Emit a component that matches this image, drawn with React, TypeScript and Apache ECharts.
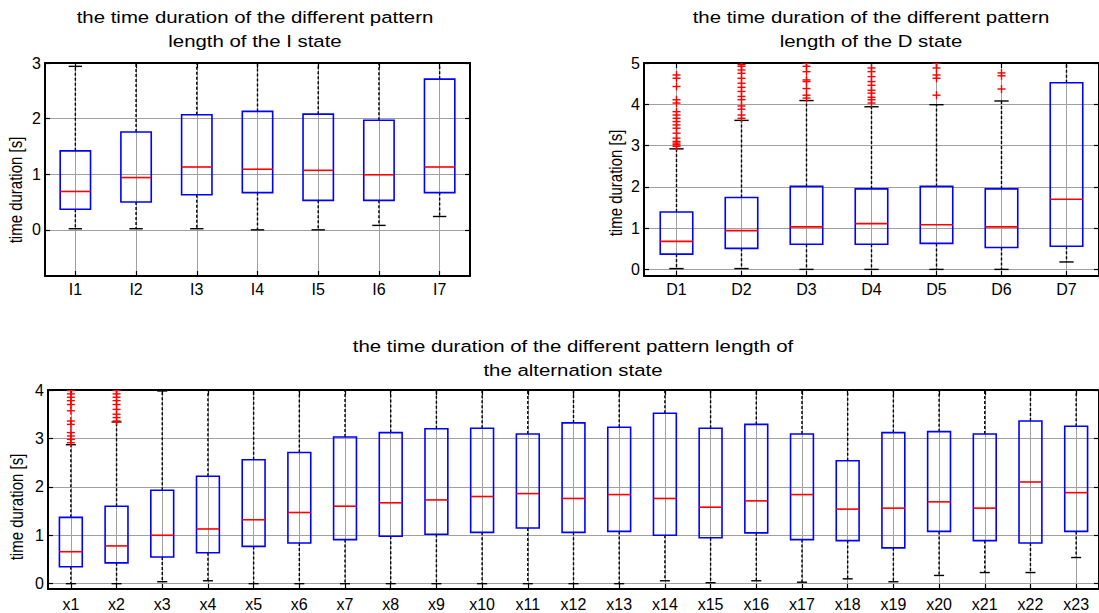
import React, { useEffect, useRef } from 'react';
import * as echarts from 'echarts';

const FONT = '"Liberation Sans", Arial, Helvetica, sans-serif';

// ---- I state ----
const iCats = ['I1', 'I2', 'I3', 'I4', 'I5', 'I6', 'I7'];
const iLow = [0.02, 0.02, 0.02, 0.0, 0.0, 0.08, 0.24];
const iQ1 = [0.37, 0.5, 0.63, 0.67, 0.53, 0.53, 0.67];
const iMed = [0.69, 0.94, 1.13, 1.09, 1.07, 0.99, 1.13];
const iQ3 = [1.42, 1.76, 2.07, 2.13, 2.08, 1.97, 2.71];
const iHigh = [2.94, 3.6, 3.9, 4.0, 3.9, 3.7, 4.6];
const iOut: number[][] = [[], [], [], [], [], [], []];
const iTicks = [0, 1, 2, 3];

// ---- D state ----
const dCats = ['D1', 'D2', 'D3', 'D4', 'D5', 'D6', 'D7'];
const dLow = [0.02, 0.02, 0.0, 0.0, 0.0, 0.0, 0.18];
const dQ1 = [0.37, 0.51, 0.61, 0.61, 0.63, 0.53, 0.56];
const dMed = [0.68, 0.94, 1.03, 1.11, 1.08, 1.03, 1.7];
const dQ3 = [1.39, 1.74, 2.01, 1.95, 2.01, 1.95, 4.52];
const dHigh = [2.92, 3.61, 4.09, 3.94, 3.99, 4.08, 6.4];
const dOut: number[][] = [
  [2.98, 3.02, 3.06, 3.1, 3.18, 3.3, 3.42, 3.5, 3.58, 3.66, 3.74, 3.82, 4.03, 4.11, 4.43, 4.63, 4.71],
  [3.66, 3.74, 3.88, 3.96, 4.11, 4.19, 4.31, 4.41, 4.51, 4.63, 4.75, 4.83, 4.92, 4.96],
  [4.15, 4.22, 4.38, 4.55, 4.59, 4.79, 4.92, 5.0],
  [4.03, 4.11, 4.17, 4.27, 4.34, 4.46, 4.55, 4.67, 4.79, 4.88],
  [4.22, 4.63, 4.71, 4.88, 5.0],
  [4.37, 4.69, 4.76],
  [],
];
const dTicks = [0, 1, 2, 3, 4, 5];

// ---- alternation state ----
const xCats = ['x1', 'x2', 'x3', 'x4', 'x5', 'x6', 'x7', 'x8', 'x9', 'x10', 'x11', 'x12', 'x13', 'x14', 'x15', 'x16', 'x17', 'x18', 'x19', 'x20', 'x21', 'x22', 'x23'];
const xLow = [0, 0, 0.04, 0.06, 0, 0, 0, 0, 0, 0, 0, 0, 0, 0.06, 0.02, 0.06, 0.03, 0.1, 0.04, 0.17, 0.23, 0.23, 0.54];
const xQ1 = [0.35, 0.43, 0.55, 0.64, 0.77, 0.84, 0.91, 0.98, 1.02, 1.06, 1.15, 1.06, 1.08, 1.0, 0.95, 1.05, 0.91, 0.89, 0.74, 1.08, 0.89, 0.84, 1.08];
const xMed = [0.66, 0.78, 1.0, 1.13, 1.32, 1.47, 1.6, 1.67, 1.73, 1.8, 1.86, 1.76, 1.84, 1.76, 1.58, 1.71, 1.84, 1.54, 1.56, 1.69, 1.56, 2.1, 1.88];
const xQ3 = [1.37, 1.6, 1.93, 2.22, 2.56, 2.71, 3.03, 3.12, 3.2, 3.21, 3.09, 3.32, 3.23, 3.52, 3.21, 3.29, 3.09, 2.54, 3.12, 3.14, 3.09, 3.36, 3.25];
const xHigh = [2.87, 3.34, 3.98, 4.6, 5.0, 5.2, 5.5, 5.6, 5.7, 5.7, 5.5, 5.9, 5.8, 6.2, 5.7, 5.8, 5.6, 4.8, 5.7, 5.7, 5.6, 6.0, 5.8];
const xOut: number[][] = [
  [2.91, 2.98, 3.05, 3.12, 3.29, 3.36, 3.57, 3.7, 3.78, 3.85, 3.92, 3.99],
  [3.36, 3.43, 3.5, 3.6, 3.7, 3.78, 3.85, 3.92, 3.99],
  [], [], [], [], [], [], [], [], [], [], [], [], [], [], [], [], [], [], [], [], [],
];
const xTicks = [0, 1, 2, 3, 4];

const titles = [
  ['the time duration of the different pattern', 'length of the I state'],
  ['the time duration of the different pattern', 'length of the D state'],
  ['the time duration of the different pattern length of', 'the alternation state'],
];
const yName = 'time duration [s]';

function boxData(low: number[], q1: number[], med: number[], q3: number[], high: number[]) {
  return low.map((l, i) => [i + 1, l, q1[i], med[i], q3[i], high[i]]);
}
function outlierData(out: number[][]) {
  const r: number[][] = [];
  out.forEach((arr, i) => arr.forEach((v) => r.push([i + 1, v])));
  return r;
}

function renderBox(params: any, api: any) {
  const x = api.value(0);
  const cs = params.coordSys;
  const top = cs.y;
  const bot = cs.y + cs.height;
  const unit = api.size([1, 0])[0];
  const halfBox = unit * 0.25;
  const halfCap = unit * 0.11;
  const cx = api.coord([x, 0])[0];
  const py = (v: number) => api.coord([x, v])[1];
  const yLow = py(api.value(1));
  const yQ1 = py(api.value(2));
  const yMed = py(api.value(3));
  const yQ3 = py(api.value(4));
  const yHigh = py(api.value(5));
  const cl = (y: number) => Math.max(top, Math.min(bot, y));
  const whisk = { stroke: '#000', lineWidth: 1.4, lineDash: [3, 2], fill: null };
  const capStyle = { stroke: '#000', lineWidth: 1.4, fill: null };
  const children: any[] = [
    { type: 'line', shape: { x1: cx, y1: yQ3, x2: cx, y2: cl(yHigh) }, style: whisk },
    { type: 'line', shape: { x1: cx, y1: yQ1, x2: cx, y2: cl(yLow) }, style: whisk },
  ];
  if (yHigh >= top) {
    children.push({ type: 'line', shape: { x1: cx - halfCap, y1: yHigh, x2: cx + halfCap, y2: yHigh }, style: capStyle });
  }
  if (yLow <= bot) {
    children.push({ type: 'line', shape: { x1: cx - halfCap, y1: yLow, x2: cx + halfCap, y2: yLow }, style: capStyle });
  }
  children.push({
    type: 'rect',
    shape: { x: cx - halfBox, y: yQ3, width: 2 * halfBox, height: yQ1 - yQ3 },
    style: { fill: 'none', stroke: '#0000ff', lineWidth: 1.6 },
  });
  children.push({
    type: 'line',
    shape: { x1: cx - halfBox, y1: yMed, x2: cx + halfBox, y2: yMed },
    style: { stroke: '#ff0000', lineWidth: 1.6, fill: null },
  });
  return { type: 'group', children };
}

function renderPlus(params: any, api: any) {
  const p = api.coord([api.value(0), api.value(1)]);
  const h = 4;
  const st = { stroke: '#ff0000', lineWidth: 1.4, fill: null };
  return {
    type: 'group',
    children: [
      { type: 'line', shape: { x1: p[0] - h, y1: p[1], x2: p[0] + h, y2: p[1] }, style: st },
      { type: 'line', shape: { x1: p[0], y1: p[1] - h, x2: p[0], y2: p[1] + h }, style: st },
    ],
  };
}

const axisLineStyle = { show: true, onZero: false, lineStyle: { color: '#000', width: 2 } };
const tickLine = { color: '#000', width: 1.2 };
const gridLine = { show: true, lineStyle: { color: '#a0a0a0', width: 1, type: 'solid' as const } };

function buildAxes(gi: number, cats: string[], ymin: number, ymax: number, yticks: number[], labelMargin: number) {
  const n = cats.length;
  const xVals = cats.map((_, i) => i + 1);
  const xAxes = [
    {
      type: 'value', gridIndex: gi, min: 0.5, max: n + 0.5, position: 'bottom',
      axisLine: axisLineStyle,
      axisTick: { show: true, inside: true, length: 5, customValues: xVals, lineStyle: tickLine },
      axisLabel: {
        customValues: xVals, color: '#000', fontSize: 16, fontFamily: FONT, margin: labelMargin,
        formatter: (v: number) => cats[Math.round(v) - 1] ?? '',
      },
      splitLine: gridLine,
    },
    {
      type: 'value', gridIndex: gi, min: 0.5, max: n + 0.5, position: 'top',
      axisLine: axisLineStyle,
      axisTick: { show: true, inside: true, length: 5, customValues: xVals, lineStyle: tickLine },
      axisLabel: { show: false },
      splitLine: { show: false },
    },
  ];
  const yAxes = [
    {
      type: 'value', gridIndex: gi, min: ymin, max: ymax, position: 'left',
      axisLine: axisLineStyle,
      axisTick: { show: true, inside: true, length: 5, customValues: yticks, lineStyle: tickLine },
      axisLabel: { customValues: yticks, color: '#000', fontSize: 16, fontFamily: FONT, margin: 4 },
      splitLine: gridLine,
    },
    {
      type: 'value', gridIndex: gi, min: ymin, max: ymax, position: 'right',
      axisLine: axisLineStyle,
      axisTick: { show: true, inside: true, length: 5, customValues: yticks, lineStyle: tickLine },
      axisLabel: { show: false },
      splitLine: { show: false },
    },
  ];
  return { xAxes, yAxes };
}

export default function App() {
  const ref = useRef<HTMLDivElement>(null);
  useEffect(() => {
    if (!ref.current) return;
    const chart = echarts.init(ref.current, null, { renderer: 'svg' });

    const grids = [
      { left: 45, top: 63, width: 425, height: 213 },
      { left: 644, top: 63, width: 459, height: 213 },
      { left: 48, top: 390, width: 1055, height: 199 },
    ];
    const panels = [
      { cats: iCats, min: -0.83, max: 3, ticks: iTicks, box: boxData(iLow, iQ1, iMed, iQ3, iHigh), out: outlierData(iOut), margin: 5 },
      { cats: dCats, min: -0.16, max: 5, ticks: dTicks, box: boxData(dLow, dQ1, dMed, dQ3, dHigh), out: outlierData(dOut), margin: 5 },
      { cats: xCats, min: -0.11, max: 4, ticks: xTicks, box: boxData(xLow, xQ1, xMed, xQ3, xHigh), out: outlierData(xOut), margin: 7 },
    ];

    const xAxis: any[] = [];
    const yAxis: any[] = [];
    const series: any[] = [];
    panels.forEach((p, gi) => {
      const { xAxes, yAxes } = buildAxes(gi, p.cats, p.min, p.max, p.ticks, p.margin);
      const xi = xAxis.length;
      const yi = yAxis.length;
      xAxis.push(...xAxes);
      yAxis.push(...yAxes);
      series.push({
        type: 'custom', xAxisIndex: xi, yAxisIndex: yi, renderItem: renderBox,
        encode: { x: 0, y: [1, 2, 3, 4, 5] }, data: p.box, clip: true, z: 3,
      });
      series.push({
        type: 'custom', xAxisIndex: xi, yAxisIndex: yi, renderItem: renderPlus,
        encode: { x: 0, y: 1 }, data: p.out, clip: true, z: 4,
      });
    });

    const titleCenters = [
      { x: 255, y1: 17, y2: 41 },
      { x: 871, y1: 17, y2: 41 },
      { x: 573, y1: 346, y2: 370 },
    ];
    const graphic: any[] = [];
    titleCenters.forEach((t, i) => {
      [t.y1, t.y2].forEach((yy, li) => {
        graphic.push({
          type: 'text', x: t.x, y: yy, scaleX: 1.2,
          style: {
            text: titles[i][li], fill: '#000', font: `17px ${FONT}`,
            textAlign: 'center', textVerticalAlign: 'middle',
          },
        });
      });
    });
    const yNamePos = [
      { x: 16, y: 190 },
      { x: 616, y: 183 },
      { x: 17, y: 507 },
    ];
    yNamePos.forEach((p) => {
      graphic.push({
        type: 'text', x: p.x, y: p.y, rotation: Math.PI / 2, scaleY: 1.2,
        style: {
          text: yName, fill: '#000', font: `15px ${FONT}`,
          textAlign: 'center', textVerticalAlign: 'middle',
        },
      });
    });

    chart.setOption({
      animation: false,
      backgroundColor: '#fff',
      grid: grids,
      xAxis,
      yAxis,
      series,
      graphic,
    });
    return () => chart.dispose();
  }, []);
  return (
    <div
      ref={ref}
      style={{ position: 'absolute', left: 0, top: 0, width: 1099, height: 613 }}
    />
  );
}
